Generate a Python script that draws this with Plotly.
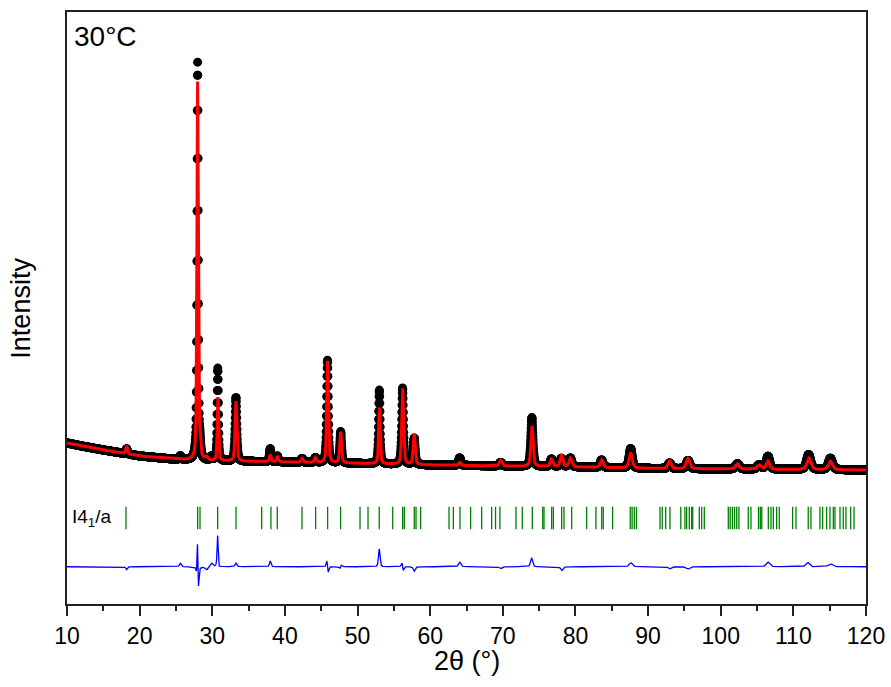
import numpy as np
import plotly.graph_objects as go

# ---------------- data ----------------
# background (counts) at selected 2theta positions
bg_two_theta = [10, 12, 15, 20, 25, 30, 40, 50, 60, 70, 80, 90, 100, 110, 120]
bg_counts = [2080, 1960, 1800, 1560, 1420, 1360, 1320, 1260, 1200, 1160, 1120, 1060, 1040, 1020, 1000]

# reflections seen in the pattern
peak_two_theta = [18.20, 25.60, 27.98, 28.31, 29.20, 29.90, 30.76, 33.26, 37.98, 38.96,
                  42.36, 44.20, 45.86, 47.68, 53.00, 56.20, 57.80, 64.06, 69.70, 74.00,
                  76.70, 78.06, 79.30, 83.60, 87.60, 92.96, 95.50, 102.30, 105.30, 106.50,
                  112.10, 115.10]
obs_intensity = [200, 140, 15900, 500, 0, 150, 3700, 2550, 520, 230,
                 150, 190, 4100, 1250, 2950, 3050, 1050, 300, 140, 1950,
                 300, 330, 350, 300, 780, 220, 330, 210, 170, 520,
                 600, 460]
calc_intensity = [320, 0, 15150, 500, 130, 0, 2550, 2400, 290, 230,
                  150, 190, 4100, 1250, 2250, 3050, 1230, 120, 220, 1620,
                  300, 480, 350, 300, 620, 310, 420, 210, 170, 330,
                  460, 340]
calc_shift = [0, 0, 0.005, 0, 0, 0, 0.015, 0, 0, 0,
              0, 0, 0.010, -0.010, 0.005, 0.010, 0, 0, 0, 0.010,
              0, 0.020, 0, 0, 0, 0, 0, 0, 0, 0,
              0.050, 0]
obs_fwhm = [0.25, 0.30, 0.20, 0.22, 0.40, 0.40, 0.20, 0.28, 0.25, 0.25,
            0.30, 0.30, 0.26, 0.28, 0.24, 0.28, 0.30, 0.35, 0.40, 0.35,
            0.40, 0.40, 0.45, 0.45, 0.50, 0.50, 0.55, 0.60, 0.60, 0.55,
            0.65, 0.65]
calc_fwhm = [0.25, 0.30, 0.215, 0.22, 0.40, 0.40, 0.21, 0.28, 0.25, 0.25,
             0.30, 0.30, 0.26, 0.28, 0.24, 0.28, 0.30, 0.35, 0.40, 0.35,
             0.40, 0.40, 0.45, 0.45, 0.50, 0.50, 0.55, 0.60, 0.60, 0.55,
             0.65, 0.65]

# Bragg reflection positions (I4_1/a)
bragg_two_theta = [18.12, 27.99, 28.31, 30.74, 33.27, 36.80, 38.08, 38.95, 42.35, 44.23,
                   45.88, 47.67, 50.34, 51.44, 52.99, 54.84, 56.21, 56.44, 57.81, 58.05,
                   58.69, 62.59, 63.19, 64.10, 65.57, 67.09, 68.46, 69.00, 69.60, 71.81,
                   72.68, 74.06, 75.49, 75.67, 76.72, 76.95, 78.10, 78.42, 79.48, 81.54,
                   82.82, 83.61, 83.83, 85.12, 87.55, 87.80, 88.10, 88.40, 91.64, 91.95,
                   92.42, 93.01, 94.50, 95.07, 95.31, 95.67, 96.00, 96.14, 97.05, 97.37,
                   97.74, 101.04, 101.30, 101.60, 101.90, 102.20, 102.50, 103.79, 104.16,
                   105.20, 105.45, 105.65, 106.55, 106.92, 107.24, 107.70, 108.06, 109.90,
                   110.36, 112.05, 112.42, 113.66, 114.03, 114.58, 115.04, 115.50, 115.73,
                   116.42, 116.87, 117.24, 117.89, 118.35]

step = 0.02
tick_level = -920
diff_offset = -2870
phase_label = "I4<sub>1</sub>/a"
temp_label = "30°C"

# ---------------- profile from the read peak table ----------------
x = np.arange(10.0, 120.0 + step / 2, step)
bg = np.interp(x, bg_two_theta, bg_counts)


def pseudo_voigt(xx, pos, fwhm, eta=0.5):
    g = np.exp(-4 * np.log(2) * ((xx - pos) / fwhm) ** 2)
    lo = 1.0 / (1.0 + 4 * ((xx - pos) / fwhm) ** 2)
    return eta * lo + (1 - eta) * g


y_obs = bg.copy()
y_calc = bg.copy()
for p, ho, hc, s, wo, wc in zip(peak_two_theta, obs_intensity, calc_intensity,
                                calc_shift, obs_fwhm, calc_fwhm):
    y_obs += ho * pseudo_voigt(x, p, wo)
    y_calc += hc * pseudo_voigt(x, p + s, wc)
y_diff = y_obs - y_calc + diff_offset

font = "Liberation Sans, Arial, sans-serif"

fig = go.Figure()
fig.add_trace(go.Scatter(x=x, y=y_obs, mode="markers",
                         marker=dict(color="black", size=9, line=dict(width=0)),
                         name="obs", hoverinfo="skip"))
fig.add_trace(go.Scatter(x=x, y=y_calc, mode="lines",
                         line=dict(color="#ff0000", width=3), name="calc", hoverinfo="skip"))
fig.add_trace(go.Scatter(x=bragg_two_theta, y=[tick_level] * len(bragg_two_theta), mode="markers",
                         marker=dict(symbol="line-ns", size=16, line=dict(color="#008000", width=1.3)),
                         name="Bragg", hoverinfo="skip"))
fig.add_trace(go.Scatter(x=x, y=y_diff, mode="lines",
                         line=dict(color="#0000ff", width=1.3), name="diff", hoverinfo="skip"))

fig.update_layout(
    width=891, height=687, autosize=False,
    margin=dict(l=67, r=25, t=12, b=83),
    paper_bgcolor="white", plot_bgcolor="white",
    showlegend=False,
    font=dict(family=font, color="black"),
    xaxis=dict(range=[10, 120], dtick=10, tick0=10, showgrid=False, zeroline=False,
               automargin=False,
               showline=True, linecolor="#222", linewidth=2, mirror=True,
               ticks="outside", ticklen=10, tickwidth=2, tickcolor="#222",
               tickfont=dict(size=23, family=font, color="black"),
               minor=dict(dtick=5, ticks="outside", ticklen=5, tickwidth=2, tickcolor="#222")),
    yaxis=dict(range=[-4360, 19320], showgrid=False, zeroline=False, showticklabels=False,
               automargin=False,
               ticks="", showline=True, linecolor="#222", linewidth=2, mirror=True),
    annotations=[
        dict(text=temp_label, xref="paper", yref="paper", x=0.006, y=0.958,
             xanchor="left", yanchor="middle", showarrow=False, font=dict(size=28, family=font)),
        dict(text=phase_label, xref="x", yref="y", x=10.35, y=tick_level,
             xanchor="left", yanchor="middle", showarrow=False, font=dict(size=19, family=font)),
        dict(text="Intensity", xref="paper", yref="paper", x=-0.058, y=0.5, textangle=-90,
             xanchor="center", yanchor="middle", showarrow=False, font=dict(size=27, family=font)),
        dict(text="2θ (°)", xref="paper", yref="paper", x=0.5, y=-0.0963,
             xanchor="center", yanchor="middle", showarrow=False, font=dict(size=27, family=font)),
    ],
)

post = "document.body.style.margin='0';document.body.style.overflow='hidden';"
fig.write_html("out.html", config={"responsive": False, "displayModeBar": False},
               post_script=post)
